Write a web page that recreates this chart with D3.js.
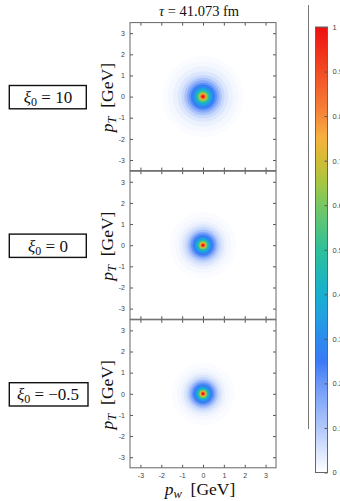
<!DOCTYPE html>
<html>
<head>
<meta charset="utf-8">
<script src="https://cdn.jsdelivr.net/npm/d3@7"></script>
<style>
  body { margin: 0; background: #fff; }
  svg { display: block; }
  .tick text { font-family: "Liberation Sans", Arial, sans-serif; font-size: 7px; fill: #444; }
  .tick line { stroke: #555; }
  .tex { font-family: "Liberation Serif", "DejaVu Serif", serif; fill: #111; }
</style>
</head>
<body>
<svg id="chart"></svg>
<script>
// ring values, outermost first (shared levels for all panels)
var levels = [0.005, 0.012, 0.025, 0.045, 0.07, 0.11, 0.16, 0.21, 0.26, 0.31, 0.37, 0.46, 0.57, 0.7, 0.85, 1.0]
// outer radius of each ring in GeV
var radiiXi10  = [1.95, 1.7, 1.45, 1.22, 1.04, 0.9, 0.78, 0.67, 0.58, 0.49, 0.41, 0.33, 0.26, 0.19, 0.13, 0.07]
var radiiXi0   = [1.6, 1.35, 1.15, 1.0, 0.87, 0.75, 0.65, 0.57, 0.49, 0.41, 0.34, 0.27, 0.21, 0.16, 0.11, 0.06]
var radiiXiM05 = [1.5, 1.25, 1.06, 0.92, 0.80, 0.70, 0.61, 0.53, 0.46, 0.39, 0.32, 0.26, 0.21, 0.16, 0.11, 0.06]
var panelRadii = [radiiXi10, radiiXi0, radiiXiM05]
var panelLabels = ["10", "0", "\u22120.5"]

var axisTicks = [-3, -2, -1, 0, 1, 2, 3]
var cbarTicks = [0, 0.1, 0.2, 0.3, 0.4, 0.5, 0.6, 0.7, 0.8, 0.9, 1]

// colormap (white -> blue -> cyan -> green -> yellow -> red)
var cmapStops  = [0, 0.1, 0.2, 0.25, 0.3, 0.35, 0.4, 0.5, 0.6, 0.65, 0.7, 0.75, 0.8, 0.9, 1]
var cmapColors = ["#ffffff", "#b2c8fb", "#6a98f8", "#3a7af6", "#2c8aee", "#22a0e2", "#16b0d0", "#2ec09a",
                  "#76c862", "#a6c644", "#d2bc34", "#f6b23e", "#f68a3a", "#f24c24", "#ee1010"]

var screen = {width: 340, height: 501}
var panel = {left: 130, width: 146, top: 22.6, height: 148, step: 148.6}

var svg = d3.select("#chart")
    .attr("width", screen.width)
    .attr("height", screen.height)

var cScale = d3.scaleLinear().domain(cmapStops).range(cmapColors)

var defs = svg.append("defs")
defs.append("filter").attr("id", "soft")
    .attr("x", "-20%").attr("y", "-20%").attr("width", "140%").attr("height", "140%")
    .append("feGaussianBlur").attr("stdDeviation", 0.7)

var xScale = d3.scaleLinear().domain([-3.5, 3.5]).range([panel.left, panel.left + panel.width])

panelRadii.forEach(function(radii, i) {
    var top = panel.top + i * panel.step
    var yScale = d3.scaleLinear().domain([-3.5, 3.5]).range([top + panel.height, top])

    defs.append("clipPath").attr("id", "clip" + i)
        .append("rect")
        .attr("x", panel.left).attr("y", top)
        .attr("width", panel.width).attr("height", panel.height)

    var rings = radii.map(function(r, k) { return {r: r, v: levels[k]} })

    svg.append("g")
        .attr("clip-path", "url(#clip" + i + ")")
        .append("g")
        .attr("filter", "url(#soft)")
        .selectAll("circle")
        .data(rings)
        .enter()
        .append("circle")
        .attr("cx", xScale(0))
        .attr("cy", yScale(0))
        .attr("r", function(d) { return xScale(d.r) - xScale(0) })
        .attr("fill", function(d) { return cScale(d.v) })

    // inward ticks on all four sides
    var fmt = function(d) { return String(d) }
    var none = function() { return "" }
    svg.append("g").attr("transform", "translate(" + panel.left + ",0)")
        .call(d3.axisLeft(yScale).tickValues(axisTicks).tickSizeInner(-3).tickSizeOuter(0).tickPadding(5).tickFormat(fmt))
    svg.append("g").attr("transform", "translate(" + (panel.left + panel.width) + ",0)")
        .call(d3.axisRight(yScale).tickValues(axisTicks).tickSizeInner(-3).tickSizeOuter(0).tickFormat(none))
    svg.append("g").attr("transform", "translate(0," + top + ")")
        .call(d3.axisTop(xScale).tickValues(axisTicks).tickSizeInner(-3).tickSizeOuter(0).tickFormat(none))
    svg.append("g").attr("transform", "translate(0," + (top + panel.height) + ")")
        .call(d3.axisBottom(xScale).tickValues(axisTicks).tickSizeInner(-3).tickSizeOuter(0).tickPadding(5)
            .tickFormat(i == panelRadii.length - 1 ? fmt : none))
    svg.selectAll(".domain").remove()

    svg.append("rect")
        .attr("x", panel.left).attr("y", top)
        .attr("width", panel.width).attr("height", panel.height)
        .attr("fill", "none").attr("stroke", "#666").attr("stroke-width", 1)

    // y axis label
    var yl = svg.append("text").attr("class", "tex")
        .attr("transform", "translate(112.5," + (yScale(0) + 1) + ") rotate(-90)")
        .attr("text-anchor", "middle")
        .style("font-size", "17.5px")
    yl.append("tspan").style("font-style", "italic").text("p")
    yl.append("tspan").style("font-style", "italic").style("font-size", "12.5px").attr("dy", 3).text("T")
    yl.append("tspan").attr("dy", -3).text("\u00a0\u00a0[GeV]")

    // xi_0 boxes
    var bx = svg.append("g").attr("transform", "translate(48," + (yScale(0) + 0.5) + ")")
    var bt = bx.append("text").attr("class", "tex")
        .attr("text-anchor", "middle").attr("y", 6)
        .style("font-size", "17px")
    bt.append("tspan").style("font-style", "italic").text("\u03be")
    bt.append("tspan").style("font-size", "12px").attr("dy", 3).text("0")
    bt.append("tspan").attr("dy", -3).text("\u00a0=\u00a0" + panelLabels[i])
    bx.insert("rect", "text")
        .attr("x", -38.7).attr("y", -11.6)
        .attr("width", i == 2 ? 78.7 : 77).attr("height", 23.3)
        .attr("fill", "#fff").attr("stroke", "#111").attr("stroke-width", 1.4)
})

// title
var title = svg.append("text").attr("class", "tex")
    .attr("x", 199).attr("y", 16).attr("text-anchor", "middle")
    .style("font-size", "14.5px")
title.append("tspan").style("font-style", "italic").text("\u03c4")
title.append("tspan").text(" = 41.073 fm")

// x axis label
var xl = svg.append("text").attr("class", "tex")
    .attr("x", 200).attr("y", 495).attr("text-anchor", "middle")
    .style("font-size", "17.5px")
xl.append("tspan").style("font-style", "italic").text("p")
xl.append("tspan").style("font-style", "italic").style("font-size", "12.5px").attr("dy", 3).text("w")
xl.append("tspan").attr("dy", -3).text("\u00a0\u00a0[GeV]")

// thin separator line left of the colorbar
svg.append("line")
    .attr("x1", 308.5).attr("x2", 308.5).attr("y1", 5).attr("y2", 429)
    .attr("stroke", "#777").attr("stroke-width", 1)

// colorbar
var cbar = {x: 315.5, width: 12, top: 27, bottom: 472.5}
var grad = defs.append("linearGradient").attr("id", "cgrad")
    .attr("x1", 0).attr("y1", 1).attr("x2", 0).attr("y2", 0)
grad.selectAll("stop")
    .data(cmapStops)
    .enter()
    .append("stop")
    .attr("offset", function(d) { return d })
    .attr("stop-color", function(d, k) { return cmapColors[k] })

var cbScale = d3.scaleLinear().domain([0, 1]).range([cbar.bottom, cbar.top])
svg.append("rect")
    .attr("x", cbar.x).attr("y", cbar.top)
    .attr("width", cbar.width).attr("height", cbar.bottom - cbar.top)
    .attr("fill", "url(#cgrad)")
var cbAxis = svg.append("g").attr("transform", "translate(" + (cbar.x + cbar.width) + ",0)")
    .call(d3.axisRight(cbScale).tickValues(cbarTicks).tickSizeInner(-3).tickSizeOuter(0).tickPadding(5)
        .tickFormat(function(d) { return String(d) }))
cbAxis.select(".domain").remove()
cbAxis.selectAll("text").style("font-size", "7.5px")
svg.append("rect")
    .attr("x", cbar.x).attr("y", cbar.top)
    .attr("width", cbar.width).attr("height", cbar.bottom - cbar.top)
    .attr("fill", "none").attr("stroke", "#666").attr("stroke-width", 1)
</script>
</body>
</html>
